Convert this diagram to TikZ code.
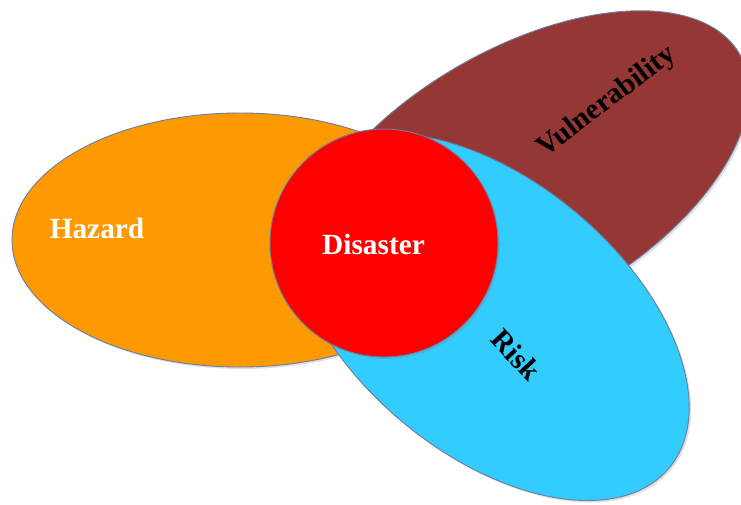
\documentclass[tikz,border=0pt]{standalone}
\usepackage{fontspec}
\setmainfont{Liberation Serif}
\usepackage{tikz}
\usetikzlibrary{shapes.geometric,shadows}
\definecolor{hazardorange}{HTML}{FF9900}
\definecolor{vulnbrown}{HTML}{953735}
\definecolor{riskblue}{HTML}{33CCFF}
\definecolor{disasterred}{HTML}{FF0000}
\definecolor{rimgray}{HTML}{6A7FA2}

\begin{document}
\begin{tikzpicture}[
  x=0.75pt,y=-0.75pt,
  blob/.style={ellipse,draw=rimgray,line width=0.7pt,inner sep=0pt,
    drop shadow={opacity=0.25,shadow xshift=1.5pt,shadow yshift=-1.5pt}},
  lbl/.style={font=\fontsize{22}{26}\selectfont\bfseries,inner sep=0pt}]
  \useasboundingbox (0,0) rectangle (741,504);
  \clip (0,0) rectangle (741,504);
  % the four sets
  \node[blob,fill=vulnbrown,minimum width=375pt,minimum height=195pt,rotate=30] (vuln) at (523,179) {};
  \node[blob,fill=hazardorange,minimum width=342pt,minimum height=190.5pt] (hazard) at (240,240) {};
  \node[blob,fill=riskblue,minimum width=352.5pt,minimum height=204pt,rotate=-40] (risk) at (489,317) {};
  \node[blob,fill=disasterred,minimum width=171pt,minimum height=171pt] (disaster) at (384,243) {};
  % labels
  \node[lbl,white,anchor=base] (hazardlbl) at (97,238) {Hazard};
  \node[lbl,white,anchor=base] (disasterlbl) at (373.5,254) {Disaster};
  \node[lbl,black,rotate=37] (vulnlbl) at (607,102) {Vulnerability};
  \node[lbl,black,rotate=-47] (risklbl) at (516,355) {Risk};
\end{tikzpicture}
\end{document}
